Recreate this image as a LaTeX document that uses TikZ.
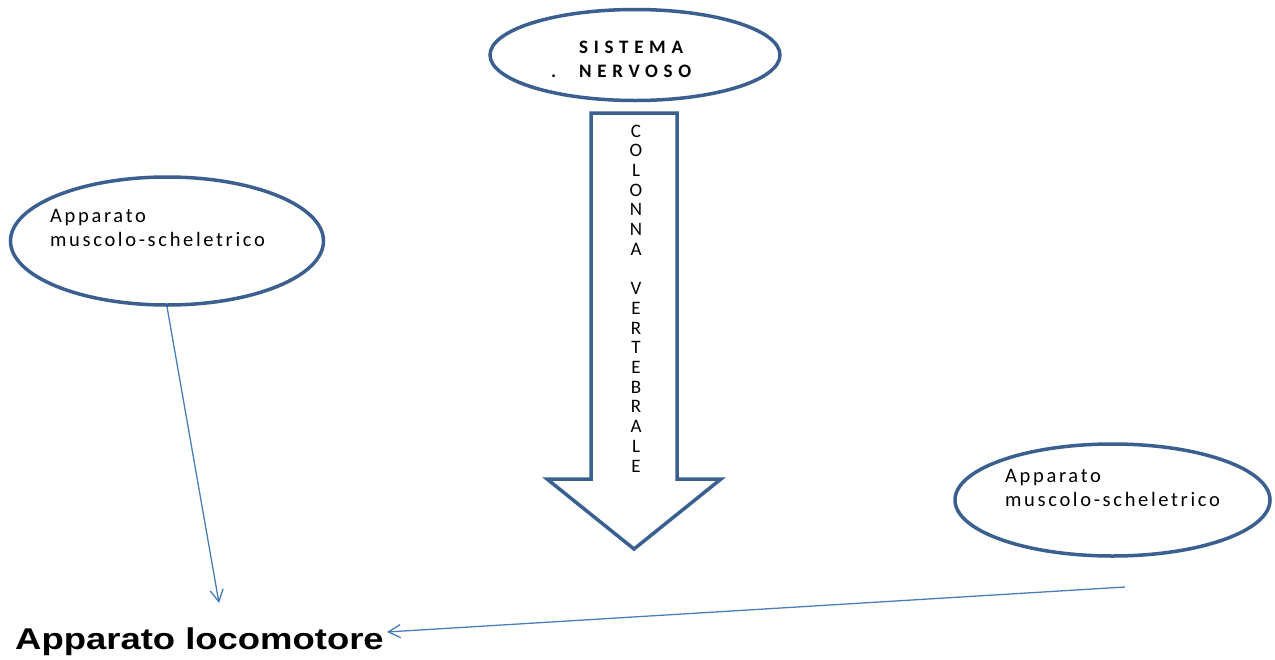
\documentclass[tikz,border=0pt]{standalone}
\usepackage{fontspec}
\usetikzlibrary{shapes.geometric,arrows.meta}
\setmainfont{Carlito}
\newfontfamily\spaced[LetterSpace=13]{Carlito}
\newfontfamily\wide[LetterSpace=30]{Carlito}
\newfontfamily\arialb{Liberation Sans}
\definecolor{edge}{HTML}{3B5F8E}
\definecolor{linkc}{HTML}{4A7EBB}
\begin{document}
\begin{tikzpicture}[x=1pt,y=-1pt,
  oval/.style={draw=edge, line width=3.5pt, ellipse, inner sep=0pt},
  lbl/.style={anchor=base west, inner sep=0pt, font=\fontsize{20.5}{24}\spaced},
  head/.style={anchor=base west, inner sep=0pt, font=\fontsize{19}{22}\wide\bfseries},
  letter/.style={inner sep=0pt, font=\fontsize{19}{22}\selectfont},
  conn/.style={draw=linkc, line width=1.3pt, -{Straight Barb[length=12pt,width=13pt,line width=1.3pt]}}
]
\useasboundingbox (0,0) rectangle (1275,659);
% top ellipse
\node[oval, minimum width=290pt, minimum height=91pt] (nerv) at (635,55) {};
\node[head] (sis) at (579,53) {SISTEMA};
\node[head] (dot) at (551,77) {.};
\node[head] (ner) at (579,77) {NERVOSO};
% block arrow
\draw[draw=edge, line width=3.5pt, line join=miter]
  (591,113) -- (677,113) -- (677,479) -- (721,479) -- (634,549)
  -- (547,479) -- (591,479) -- cycle;
\foreach \l [count=\i from 0] in {C,O,L,O,N,N,A,{},V,E,R,T,E,B,R,A,L,E}
  \node[letter] (c\i) at (636,131+19.7*\i) {\l};
% left ellipse
\node[oval, minimum width=313pt, minimum height=128pt] (lm) at (167,241) {};
\node[lbl] (lt1) at (50,222) {Apparato};
\node[lbl] (lt2) at (50,246) {muscolo-scheletrico};
% right ellipse
\node[oval, minimum width=315pt, minimum height=112pt] (rm) at (1112.5,500) {};
\node[lbl] (rt1) at (1005,482) {Apparato};
\node[lbl] (rt2) at (1005,506) {muscolo-scheletrico};
% title
\node[anchor=base west, inner sep=0pt, font=\fontsize{30}{32}\arialb\bfseries] (loc) at (15,649)
  {\scalebox{1.215}[1]{Apparato locomotore}};
% connectors
\coordinate (tipL) at (219,603);
\coordinate (startR) at (1125,587);
\coordinate (tipR) at (387,632);
\draw[conn] (lm.south) -- (tipL);
\draw[conn] (startR) -- (tipR);
\end{tikzpicture}
\end{document}
